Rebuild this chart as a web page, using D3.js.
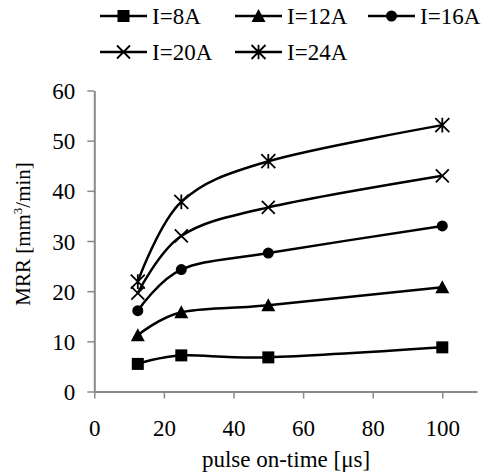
<!DOCTYPE html>
<html><head><meta charset="utf-8">
<script src="https://cdn.jsdelivr.net/npm/d3@7"></script>
<style>
html,body{margin:0;padding:0;background:#fff;}
svg{display:block;}
</style></head>
<body>
<svg id="c" width="483" height="476"></svg>
<script>
const pulseOnTime = [12.5, 25, 50, 100];
const seriesNames = ["I=8A", "I=12A", "I=16A", "I=20A", "I=24A"];
const mrr8  = [5.5, 7.2, 6.8, 8.8];
const mrr12 = [11.2, 15.8, 17.2, 20.8];
const mrr16 = [16.1, 24.3, 27.6, 33.0];
const mrr20 = [19.6, 31.0, 36.7, 43.0];
const mrr24 = [21.9, 37.8, 45.9, 53.1];
const xTicks = [0, 20, 40, 60, 80, 100];
const yTicks = [0, 10, 20, 30, 40, 50, 60];
const markerTypes = ["square", "triangle", "circle", "x", "asterisk"];

const allSeries = [mrr8, mrr12, mrr16, mrr20, mrr24];

const FONT = "Liberation Serif";
const svg = d3.select("#c").attr("font-family", FONT);
const x = d3.scaleLinear().domain([0, 110]).range([94.3, 477.1]);
const y = d3.scaleLinear().domain([0, 60]).range([391.5, 90.5]);
const axisColor = "#8a8a8a";
const FS = 23;

// axes
const gx = svg.append("g").attr("transform", `translate(0,${y(0)})`)
  .call(d3.axisBottom(x).tickValues(xTicks).tickSizeInner(7).tickSizeOuter(0).tickPadding(21).tickFormat(d3.format("d")));
const gy = svg.append("g").attr("transform", `translate(${x(0)},0)`)
  .call(d3.axisLeft(y).tickValues(yTicks).tickSizeInner(7).tickSizeOuter(0).tickPadding(12).tickFormat(d3.format("d")));
[gx, gy].forEach(g => {
  g.attr("font-family", FONT).attr("font-size", FS);
  g.select(".domain").attr("stroke", axisColor).attr("stroke-width", 2);
  g.selectAll(".tick line").attr("stroke", axisColor).attr("stroke-width", 1.5);
  g.selectAll(".tick text").attr("font-family", FONT).attr("font-size", FS).attr("fill", "#000");
});
gy.selectAll(".tick text").attr("dy", "0.35em");

// axis titles
svg.append("text").attr("x", 286).attr("y", 467).attr("text-anchor", "middle")
  .attr("font-family", FONT).attr("font-size", FS).attr("fill", "#000").text("pulse on-time [μs]");
const yt = svg.append("text").attr("transform", "translate(30,234) rotate(-90)")
  .attr("text-anchor", "middle").attr("font-family", FONT).attr("font-size", 21).attr("fill", "#000");
yt.append("tspan").text("MRR [mm");
yt.append("tspan").attr("font-size", 13).attr("dy", -8).text("3");
yt.append("tspan").attr("dy", 8).text("/min]");

// markers
function drawMarker(g, type, cx, cy, s) {
  s = s || 1;
  if (type === "square") {
    g.append("rect").attr("x", cx - 6*s).attr("y", cy - 6*s).attr("width", 12*s).attr("height", 12*s).attr("fill", "#000");
  } else if (type === "triangle") {
    g.append("path").attr("d", `M${cx},${cy-7*s}L${cx+7*s},${cy+6*s}L${cx-7*s},${cy+6*s}Z`).attr("fill", "#000");
  } else if (type === "circle") {
    g.append("circle").attr("cx", cx).attr("cy", cy).attr("r", 5.5*s).attr("fill", "#000");
  } else if (type === "x") {
    const r = 6.5*s;
    g.append("path").attr("d", `M${cx-r},${cy-r}L${cx+r},${cy+r}M${cx-r},${cy+r}L${cx+r},${cy-r}`)
      .attr("stroke", "#000").attr("stroke-width", 1.8).attr("fill", "none");
  } else if (type === "asterisk") {
    const r = 7*s;
    g.append("path").attr("d", `M${cx-r},${cy-r}L${cx+r},${cy+r}M${cx-r},${cy+r}L${cx+r},${cy-r}M${cx},${cy-r*1.05}L${cx},${cy+r*1.05}`)
      .attr("stroke", "#000").attr("stroke-width", 1.8).attr("fill", "none");
  }
}

const line = d3.line().x((d, i) => x(pulseOnTime[i])).y(d => y(d)).curve(d3.curveCardinal.tension(0));

allSeries.forEach((vals, si) => {
  const g = svg.append("g");
  g.append("path").attr("d", line(vals)).attr("fill", "none").attr("stroke", "#000").attr("stroke-width", 2.5);
  vals.forEach((v, i) => drawMarker(g, markerTypes[si], x(pulseOnTime[i]), y(v)));
});

// legend
const legendPos = [[100, 16], [235, 16], [368, 16], [100, 52], [235, 52]];
seriesNames.forEach((name, i) => {
  const [lx, ly] = legendPos[i];
  const g = svg.append("g");
  g.append("line").attr("x1", lx).attr("x2", lx + 47).attr("y1", ly).attr("y2", ly).attr("stroke", "#000").attr("stroke-width", 2.5);
  drawMarker(g, markerTypes[i], lx + 23.5, ly);
  g.append("text").attr("x", lx + 52).attr("y", ly).attr("dy", "0.35em")
    .attr("font-family", FONT).attr("font-size", FS).attr("fill", "#000").text(name);
});
</script>
</body></html>
